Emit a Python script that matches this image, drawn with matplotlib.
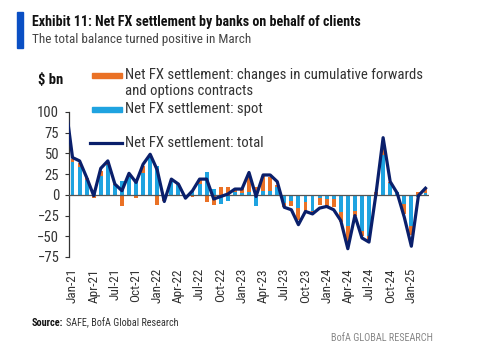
import matplotlib
matplotlib.use("Agg")
import matplotlib.pyplot as plt
from matplotlib.patches import Rectangle
import numpy as np
import pandas as pd
from matplotlib import font_manager

# Monthly net FX settlement, $ bn (Jan-21 .. Mar-25)
months = pd.date_range("2021-01-01", "2025-03-01", freq="MS")
spot = [40, 34, 18, 2, 23, 36, 12, 17, 21, 17, 26, 46,
        35, -3, 15, 12, 0, 6, 13, 28, 7, -11, -8, 4,
        2, 4, -14, 5, 5, 9, -10, -7, -16, -9, -20, -4,
        -5, -5, -21, -38, -19, -44, -50, -1, 48, 14, 4, -11,
        -38, -2, 2]
forwards = [3, 4, 2, -4, 6, 4, 1, -14, 3, -4, 9, -1,
            -12, -4, 2, 1, -5, -2, 5, -9, -12, 10, 9, 3,
            6, 19, 10, 18, 16, 3, -5, -7, -14, -10, -3, -8,
            -8, -10, -12, -20, -6, -6, -4, 3, 14, 2, -1, -12,
            -10, 3, 6]
# total series starts one month earlier (Dec-20); that point falls left of the axis
total = [110, 45, 41, 21, -1, 32, 41, 13, 5, 26, 15, 37, 49,
         30, -8, 19, 13, -4, 5, 19, 19, -5, -2, 1, 7,
         7, 27, -2, 24, 24, 16, -15, -18, -36, -20, -23, -16,
         -14, -18, -31, -65, -25, -52, -57, 2, 69, 16, 2, -27,
         -62, -1, 8]
legend_labels = ["Net FX settlement: changes in cumulative forwards",
                 "and options contracts",
                 "Net FX settlement: spot",
                 "Net FX settlement: total"]

ORANGE = "#ea7125"
SKY = "#1fa3e0"
NAVY = "#0a1f6b"
TXT = "#333333"

names = {f.name for f in font_manager.fontManager.ttflist}
FONT = next(f for f in ["Roboto Condensed", "Liberation Sans Narrow", "Lato", "DejaVu Sans"]
            if f in names)
plt.rcParams["font.family"] = [FONT, "DejaVu Sans"]

W, H = 486, 349
fig = plt.figure(figsize=(W / 100, H / 100), dpi=100)
renderer = fig.canvas.get_renderer()


def px(x, y):
    return x / W, 1 - y / H


def fit_text(x, y, s, width, **kw):
    """Place text at pixel position and scale its size to a pixel width."""
    t = fig.text(*px(x, y), s, **kw)
    w = t.get_window_extent(renderer).width
    t.set_fontsize(t.get_fontsize() * width / w)
    return t


ax = fig.add_axes([69 / W, 1 - 257 / H, 360 / W, 145 / H])

x = np.arange(len(months))
spot_a = np.array(spot, dtype=float)
fwd_a = np.array(forwards, dtype=float)
fwd_bottom = np.where(fwd_a >= 0, np.maximum(spot_a, 0), np.minimum(spot_a, 0))

ax.bar(x, spot_a, width=0.55, color=SKY, zorder=2)
ax.bar(x, fwd_a, width=0.55, bottom=fwd_bottom, color=ORANGE, zorder=2)
ax.axhline(0, color="#555555", lw=0.9, zorder=3)
ax.plot(np.arange(-1, len(months)), total, color=NAVY, lw=2.3, zorder=4)

ax.set_xlim(-0.5, len(months) - 0.5)
ax.set_ylim(-75, 100)
ax.set_yticks(np.arange(-75, 101, 25))
ax.tick_params(axis="y", length=3, width=0.8, color="#333333", labelsize=10.5,
               labelcolor=TXT, pad=4)
tick_pos = x[::3]
ax.set_xticks(tick_pos)
ax.set_xticklabels([months[i].strftime("%b-%y") for i in tick_pos],
                   rotation=90, fontsize=9.5, color=TXT)
ax.tick_params(axis="x", length=0, pad=8)
for s in ["top", "right", "bottom"]:
    ax.spines[s].set_visible(False)
ax.spines["left"].set_color("#333333")
ax.spines["left"].set_linewidth(0.9)

# legend, drawn by hand so the rows keep their uneven spacing
fig.patches.append(Rectangle(px(92, 78), 30 / W, 5 / H, transform=fig.transFigure,
                             color=ORANGE))
fig.patches.append(Rectangle(px(92, 112), 30 / W, 5 / H, transform=fig.transFigure,
                             color=SKY))
fig.lines.append(plt.Line2D([90 / W, 122 / W], [1 - 143 / H] * 2,
                            transform=fig.transFigure, color=NAVY, lw=2.3))
leg0 = fit_text(125, 75, legend_labels[0], 295, fontsize=10, color=TXT, va="center")
for lbl, y in zip(legend_labels[1:], [91, 109, 143]):
    fig.text(*px(125, y), lbl, fontsize=leg0.get_fontsize(), color=TXT, va="center")

# header
fig.patches.append(Rectangle(px(17, 48), 6 / W, 36 / H, transform=fig.transFigure,
                             color="#0a4fc4"))
fit_text(32, 22, "Exhibit 11: Net FX settlement by banks on behalf of clients", 329,
         fontsize=10, fontweight="bold", color="#111111", va="center")
fit_text(32, 40, "The total balance turned positive in March", 218,
         fontsize=10, color="#444444", va="center")
fig.text(*px(38, 80), "$ bn", fontsize=10.5, fontweight="bold", color="#111111",
         va="center")

# footer
src = fit_text(32, 323, "Source:", 31, fontsize=7.5, fontweight="bold",
               color="#111111", va="center")
fit_text(66, 323, "SAFE, BofA Global Research", 112, fontsize=7.5,
         color="#333333", va="center")
fit_text(331, 338, "BofA GLOBAL RESEARCH", 101, fontsize=7.5, color="#888888",
         va="center")

fig.savefig("out.png", dpi=100)
